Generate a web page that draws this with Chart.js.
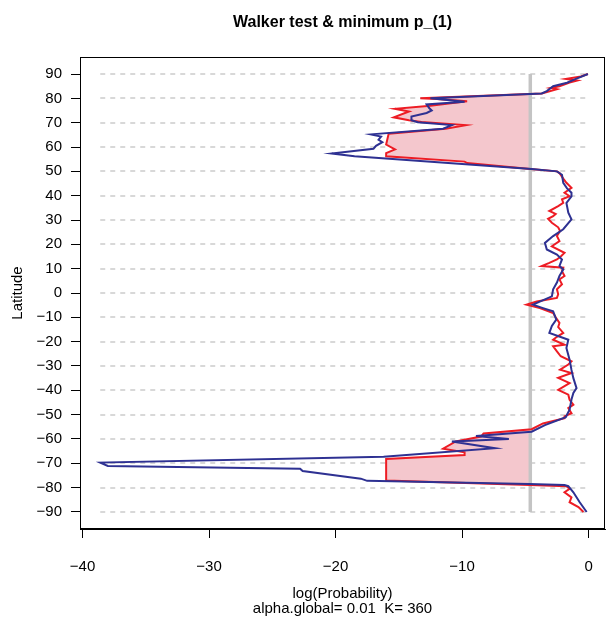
<!DOCTYPE html>
<html>
<head>
<meta charset="utf-8">
<script src="https://cdn.jsdelivr.net/npm/chart.js@4.4.1/dist/chart.umd.min.js"></script>
<style>
  html, body { margin: 0; padding: 0; background: #ffffff; }
</style>
</head>
<body>
<canvas id="myChartWalker" width="607" height="619"></canvas>
<script>
// Tick labels
const latTicks = [90, 80, 70, 60, 50, 40, 30, 20, 10, 0, -10, -20, -30, -40, -50, -60, -70, -80, -90];
const probTicks = [-40, -30, -20, -10, 0];

// Walker test: alpha.global = 0.01 -> threshold log(0.01)
const alphaGlobal = 0.01;
const threshold = Math.log(alphaGlobal);

// Red series (latitude, log probability)
const redLat = [90, 89, 88, 87.3, 86.5, 85, 84.3, 83.8, 82, 80, 79.7, 78.8, 77, 75.7, 74.6, 72.2, 71, 70.3, 69, 67.5,
    65.5, 61, 59, 57.5, 56.2, 54, 53.4, 51, 50, 49.3, 47, 45.3, 43.2, 41.2, 39.8, 38.5, 37.1, 35.7, 33.7, 32.5,
    31.6, 30.5, 28.9, 27, 25.5, 23.4, 21.3, 19.2, 16.5, 15, 13.8, 12.4, 11.1, 10.4, 9, 7, 5.6, 3.6, 1.5, -0.5,
    -2, -3.5, -4.8, -6.2, -8.2, -10, -12.3, -14, -16.4, -18, -19.2, -21.3, -21.9, -24, -26, -28.1, -29.4, -31.5, -32.9, -34.9,
    -37, -39.8, -41.8, -43.9, -45.9, -47.3, -49.4, -50.7, -51.5, -53.6, -56, -57.7, -59, -61, -64, -65.5, -66.6, -68.2,
    -77.1, -78.9, -79.4, -80.5, -81.9, -84, -86, -88, -90];
const redVal = [-0.05, -0.6, -1.8, -0.9, -1.5, -2.3, -3.0, -2.5, -3.7, -13.3, -12.0, -9.6, -12.5, -15.3, -14.2, -15.4, -14.2, -13.2, -9.7, -11.3,
    -15.8, -16.0, -15.3, -16.0, -16.0, -9.8, -9.6, -4.6, -2.5, -2.3, -2.0, -1.75, -1.35, -1.9, -1.5, -2.1, -2.0, -2.4, -3.1, -2.6,
    -2.8, -3.2, -2.9, -2.4, -2.25, -2.5, -2.3, -2.9, -1.9, -2.2, -2.5, -3.1, -3.7, -2.0, -2.1, -1.9, -2.3, -2.1, -2.5, -2.4,
    -2.5, -4.1, -4.9, -3.85, -2.8, -2.6, -2.3, -2.4, -2.0, -2.5, -2.8, -1.9, -2.8, -2.5, -2.2, -1.35, -1.6, -2.25, -1.35, -2.4,
    -1.5, -2.4, -1.6, -1.5, -1.2, -1.6, -1.35, -1.9, -1.9, -3.6, -4.5, -8.3, -8.5, -10.5, -11.5, -9.8, -9.8, -16.0,
    -16.0, -4.65, -1.75, -1.5, -1.9, -1.35, -1.5, -0.8, -0.4];

// Blue series (latitude, log probability)
const blueLat = [90, 88, 86.4, 85, 83, 82, 80, 78.6, 77.5, 76, 75, 74, 72.5, 71, 70.2, 69, 67.5, 65.2, 64.3, 63,
    62, 60.5, 59.3, 57.3, 56.2, 51, 50, 48.6, 45.3, 43, 41.2, 39.7, 37, 33, 30.3, 26.2, 23.4, 20.6, 17.9, 15.8,
    13.8, 11.1, 9.7, 7, 4.3, 1.5, -1.4, -4.8, -6.2, -7.5, -10.9, -13.5, -16.4, -19.2, -22.6, -27.4, -31.6, -35, -39.1, -41.1,
    -43.8, -48, -51, -54.3, -57, -58.8, -60, -61, -63.8, -67.3, -69.7, -71.1, -72.2, -73.2, -76.3, -77.2, -78.5, -78.9, -79.4, -81.9,
    -86, -90];
const blueVal = [-0.05, -1.0, -1.7, -2.8, -3.3, -3.7, -12.5, -9.8, -12.8, -12.6, -12.4, -12.8, -14.0, -14.0, -13.5, -10.8, -11.5, -17.2, -16.4, -16.6,
    -16.3, -16.8, -17.0, -20.3, -18.5, -4.5, -2.5, -2.1, -2.0, -1.7, -1.35, -1.35, -1.75, -1.6, -1.35, -2.0, -2.8, -3.45, -3.3, -2.5,
    -2.1, -2.3, -2.0, -2.3, -2.5, -2.8, -2.9, -4.4, -3.6, -2.8, -2.55, -2.9, -3.1, -1.6, -1.75, -1.5, -1.35, -1.2, -0.95, -1.2,
    -1.35, -1.5, -1.8, -3.45, -4.5, -8.9, -6.3, -10.8, -7.4, -16.2, -38.6, -38.0, -22.8, -22.6, -18.0, -17.5, -4.7, -1.9, -1.6, -1.2,
    -0.7, -0.15];

const toPoints = (lats, vals) => lats.map((lat, i) => ({ x: vals[i], y: lat }));

// Zona significativa: la serie roja recortada al umbral (con los cruces interpolados)
function belowThreshold(lats, vals, thr) {
    const pts = [];
    for (let i = 0; i < lats.length; i++) {
        if (i > 0) {
            const a = vals[i - 1], b = vals[i];
            if ((a - thr) * (b - thr) < 0) {
                const t = (thr - a) / (b - a);
                pts.push({ x: thr, y: lats[i - 1] + t * (lats[i] - lats[i - 1]) });
            }
        }
        pts.push({ x: Math.min(vals[i], thr), y: lats[i] });
    }
    return pts;
}

const allVals = redVal.concat(blueVal);
const dataMin = Math.min(...allVals);
const dataMax = Math.max(...allVals);

const axisFont = { family: "'Liberation Sans', Arial, Helvetica, sans-serif", size: 15 };
const minusLabel = v => (v < 0 ? '\u2212' + Math.abs(v) : String(v));

// Lineas horizontales punteadas en cada latitud
const dashedLats = {
    id: 'dashedLats',
    beforeDatasetsDraw(chart) {
        const { ctx, scales: { x, y } } = chart;
        ctx.save();
        ctx.strokeStyle = '#cccccc';
        ctx.lineWidth = 1.5;
        ctx.setLineDash([5, 5]);
        latTicks.forEach(lat => {
            const py = Math.round(y.getPixelForValue(lat));
            ctx.beginPath();
            ctx.moveTo(x.getPixelForValue(dataMin), py);
            ctx.lineTo(x.getPixelForValue(dataMax), py);
            ctx.stroke();
        });
        ctx.restore();
    }
};

// Caja alrededor del area del grafico
const plotBox = {
    id: 'plotBox',
    afterDraw(chart) {
        const { ctx, chartArea: a } = chart;
        ctx.save();
        ctx.strokeStyle = '#000';
        ctx.lineWidth = 1;
        ctx.strokeRect(Math.round(a.left) + 0.5, Math.round(a.top) + 0.5, Math.round(a.right - a.left) - 1, Math.round(a.bottom - a.top) - 1);
        ctx.restore();
    }
};

const ctxWalker = document.getElementById('myChartWalker').getContext('2d');

const myChartWalker = new Chart(ctxWalker, {
    type: 'line',
    data: {
        datasets: [
            {
                label: 'blue',
                data: toPoints(blueLat, blueVal),
                borderColor: '#2e3192',
                borderWidth: 2,
                pointRadius: 0,
                fill: false,
                order: 1
            },
            {
                label: 'red',
                data: toPoints(redLat, redVal),
                borderColor: '#ed1c24',
                borderWidth: 2,
                pointRadius: 0,
                fill: false,
                order: 2
            },
            {
                label: 'alpha',
                data: [{ x: threshold, y: 90 }, { x: threshold, y: -90 }],
                borderColor: '#c4c4c4',
                borderWidth: 3.5,
                pointRadius: 0,
                fill: false,
                order: 3
            },
            {
                label: 'signif',
                data: belowThreshold(redLat, redVal, threshold),
                borderColor: 'transparent',
                borderWidth: 0,
                backgroundColor: '#f4c7cd',
                pointRadius: 0,
                fill: 'shape',
                order: 4
            }
        ]
    },
    options: {
        responsive: false,
        animation: false,
        layout: { padding: { left: 0, right: 2, top: 0, bottom: 0 } },
        plugins: {
            legend: { display: false },
            tooltip: { enabled: false },
            title: {
                display: true,
                fullSize: false,
                text: 'Walker test & minimum p_(1)',
                color: '#000',
                font: { family: axisFont.family, size: 16, weight: 'bold' },
                padding: { top: 13, bottom: 24.8 }
            }
        },
        scales: {
            x: {
                type: 'linear',
                min: -40.2,
                max: 1.3,
                afterBuildTicks: scale => { scale.ticks = probTicks.map(v => ({ value: v })); },
                afterFit: scale => {
                    scale.height = 90;
                    scale.paddingLeft = 0;
                    scale.paddingRight = 0;
                },
                ticks: { color: '#000', font: axisFont, padding: 20, maxRotation: 0, callback: minusLabel },
                grid: { drawOnChartArea: false, drawTicks: true, tickLength: 9, color: '#000' },
                border: { display: true, color: '#000' },
                title: {
                    display: true,
                    text: ['log(Probability)', 'alpha.global= 0.01  K= 360'],
                    color: '#000',
                    font: { family: axisFont.family, size: 15, lineHeight: 1.0 },
                    padding: { top: 0, bottom: 2.5 }
                }
            },
            y: {
                type: 'linear',
                min: -97,
                max: 97,
                afterBuildTicks: scale => { scale.ticks = latTicks.map(v => ({ value: v })); },
                afterFit: scale => {
                    scale.width = 80;
                    scale.paddingTop = 0;
                    scale.paddingBottom = 0;
                },
                ticks: { color: '#000', font: axisFont, padding: 9, callback: minusLabel },
                grid: { drawOnChartArea: false, drawTicks: true, tickLength: 9, color: '#000' },
                border: { display: true, color: '#000' },
                title: {
                    display: true,
                    text: 'Latitude',
                    color: '#000',
                    font: axisFont,
                    padding: { top: 9, bottom: 0 }
                }
            }
        }
    },
    plugins: [dashedLats, plotBox]
});
</script>
</body>
</html>
